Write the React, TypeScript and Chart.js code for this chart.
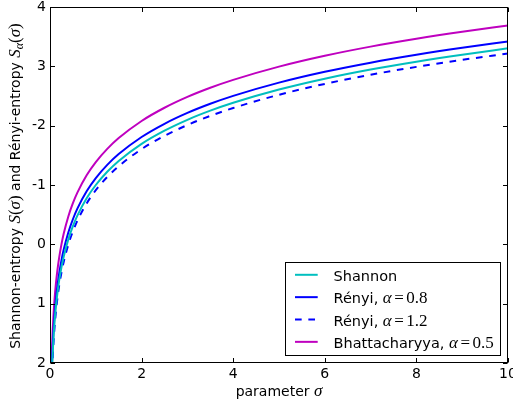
import { useEffect, useRef } from "react";
import { Chart, registerables } from "chart.js";

Chart.register(...registerables);

// ---- data ----
const sigma = [0.03, 0.04, 0.05, 0.06, 0.08, 0.1, 0.13, 0.16, 0.2, 0.25, 0.3, 0.4, 0.5, 0.6, 0.8, 1.0, 1.25, 1.5, 2, 2.5, 3, 3.5, 4, 5, 6, 7, 8, 9, 10];
const shannon = [-2.507, -2.219, -1.996, -1.813, -1.526, -1.303, -1.04, -0.833, -0.609, -0.386, -0.204, 0.084, 0.307, 0.489, 0.777, 1.0, 1.223, 1.405, 1.693, 1.916, 2.099, 2.253, 2.386, 2.609, 2.792, 2.946, 3.079, 3.197, 3.303];
const renyi08 = [-2.391, -2.103, -1.88, -1.697, -1.41, -1.187, -0.924, -0.717, -0.493, -0.27, -0.088, 0.2, 0.423, 0.605, 0.893, 1.116, 1.339, 1.521, 1.809, 2.032, 2.215, 2.369, 2.502, 2.725, 2.908, 3.062, 3.195, 3.313, 3.419];
const renyi12 = [-2.595, -2.307, -2.084, -1.901, -1.614, -1.391, -1.128, -0.921, -0.697, -0.474, -0.292, -0.004, 0.219, 0.401, 0.689, 0.912, 1.135, 1.317, 1.605, 1.828, 2.011, 2.165, 2.298, 2.521, 2.704, 2.858, 2.991, 3.109, 3.215];
const bhattacharyya = [-2.121, -1.833, -1.61, -1.427, -1.14, -0.917, -0.654, -0.447, -0.223, 0.0, 0.182, 0.47, 0.693, 0.875, 1.163, 1.386, 1.609, 1.791, 2.079, 2.302, 2.485, 2.639, 2.772, 2.995, 3.178, 3.332, 3.465, 3.583, 3.689];

const xTicks = [0, 2, 4, 6, 8, 10];
const yTickValues = [-2, -1, 0, 1, 2, 3, 4];
const yTickLabels = ["2", "1", "0", "-1", "-2", "3", "4"];

const legendNames = ["Shannon", "Rényi, ", "Rényi, ", "Bhattacharyya, "];
const legendAlpha = ["", "0.8", "1.2", "0.5"];

const SANS = '"DejaVu Sans"';
const SERIF = '"Liberation Serif"';
const F_SANS = `14px ${SANS}`;
const F_LEG = `14.5px ${SANS}`;
const F_MI = `italic 17px ${SERIF}`;
const F_MR = `17px ${SERIF}`;
const F_SUB = `italic 12px ${SERIF}`;

type Run = { t: string; f: string; dy?: number; gap?: number };

function runsWidth(ctx: CanvasRenderingContext2D, runs: Run[]) {
  let w = 0;
  for (const r of runs) {
    ctx.font = r.f;
    w += ctx.measureText(r.t).width + 2 * (r.gap || 0);
  }
  return w;
}

function drawRuns(ctx: CanvasRenderingContext2D, runs: Run[], x: number, y: number) {
  let cx = x;
  ctx.textBaseline = "alphabetic";
  ctx.textAlign = "left";
  for (const r of runs) {
    ctx.font = r.f;
    cx += r.gap || 0;
    ctx.fillText(r.t, cx, y + (r.dy || 0));
    cx += ctx.measureText(r.t).width + (r.gap || 0);
  }
  return cx - x;
}

const decor = {
  id: "decor",
  afterDatasetsDraw(chart: any) {
    const { ctx, chartArea: ca, scales } = chart;
    const xs = scales.x;
    const ys = scales.y;
    ctx.save();
    ctx.strokeStyle = "#000";
    ctx.lineWidth = 1;
    ctx.setLineDash([]);
    const L = Math.round(ca.left) + 0.5;
    const R = Math.round(ca.right) - 0.5;
    const T = Math.round(ca.top) + 0.5;
    const B = Math.round(ca.bottom) - 0.5;
    ctx.strokeRect(L, T, R - L, B - T);
    const tl = 4.5;
    ctx.beginPath();
    for (const v of xTicks) {
      const px = Math.round(xs.getPixelForValue(v)) + 0.5;
      ctx.moveTo(px, B);
      ctx.lineTo(px, B - tl);
      ctx.moveTo(px, T);
      ctx.lineTo(px, T + tl);
    }
    for (const v of yTickValues) {
      const py = Math.round(ys.getPixelForValue(v)) + 0.5;
      ctx.moveTo(L, py);
      ctx.lineTo(L + tl, py);
      ctx.moveTo(R, py);
      ctx.lineTo(R - tl, py);
    }
    ctx.stroke();

    // legend
    const rows = chart.data.datasets.map((ds: any, i: number) => {
      const runs: Run[] = [{ t: legendNames[i], f: F_LEG }];
      if (legendAlpha[i]) {
        runs.push({ t: "α", f: F_MI });
        runs.push({ t: "=", f: F_MR, gap: 2.5 });
        runs.push({ t: legendAlpha[i], f: F_MR });
      }
      return { ds, runs };
    });
    let maxW = 0;
    for (const r of rows) maxW = Math.max(maxW, runsWidth(ctx, r.runs));
    const boxW = 48 + maxW + 7;
    const boxH = 92.6;
    const bx = Math.round(ca.right - 7.3 - boxW) + 0.5;
    const by = Math.round(ca.bottom - 8.4 - boxH) + 0.5;
    ctx.fillStyle = "#fff";
    ctx.fillRect(bx, by, boxW, boxH);
    ctx.strokeStyle = "#000";
    ctx.lineWidth = 1;
    ctx.strokeRect(bx, by, Math.round(boxW), Math.round(boxH));
    rows.forEach((r: any, i: number) => {
      const ry = by + 12.3 + i * 22.35;
      ctx.strokeStyle = r.ds.borderColor;
      ctx.lineWidth = r.ds.borderWidth;
      ctx.setLineDash(r.ds.borderDash || []);
      ctx.beginPath();
      ctx.moveTo(bx + 9.5, ry);
      ctx.lineTo(bx + 32.2, ry);
      ctx.stroke();
      ctx.setLineDash([]);
      ctx.fillStyle = "#000";
      drawRuns(ctx, r.runs, bx + 48, ry + 6);
    });

    // x title
    ctx.fillStyle = "#000";
    const xRuns: Run[] = [
      { t: "parameter ", f: F_SANS },
      { t: "σ", f: F_MI },
    ];
    const xw = runsWidth(ctx, xRuns);
    drawRuns(ctx, xRuns, (ca.left + ca.right) / 2 - xw / 2, 396);

    // y title
    const yRuns: Run[] = [
      { t: "Shannon-entropy ", f: F_SANS },
      { t: "S", f: F_MI },
      { t: "(", f: F_MR },
      { t: "σ", f: F_MI },
      { t: ")", f: F_MR },
      { t: " and Rényi-entropy ", f: F_SANS },
      { t: "S", f: F_MI },
      { t: "α", f: F_SUB, dy: 3 },
      { t: "(", f: F_MR },
      { t: "σ", f: F_MI },
      { t: ")", f: F_MR },
    ];
    const yw = runsWidth(ctx, yRuns);
    ctx.translate(20, (ca.top + ca.bottom) / 2 + 1);
    ctx.rotate(-Math.PI / 2);
    drawRuns(ctx, yRuns, -yw / 2, 0);
    ctx.restore();
  },
};

export default function App() {
  const ref = useRef<HTMLCanvasElement | null>(null);
  useEffect(() => {
    document.body.style.margin = "0";
    const mk = (ys: number[]) => sigma.map((s, i) => ({ x: s, y: ys[i] }));
    const chart = new Chart(ref.current!, {
      type: "line",
      data: {
        datasets: [
          { label: "Shannon", data: mk(shannon), borderColor: "#00BFBF", borderWidth: 2, pointRadius: 0, cubicInterpolationMode: "monotone" },
          { label: "Rényi 0.8", data: mk(renyi08), borderColor: "#0000FF", borderWidth: 2, pointRadius: 0, cubicInterpolationMode: "monotone" },
          { label: "Rényi 1.2", data: mk(renyi12), borderColor: "#0000FF", borderWidth: 2, borderDash: [6.67, 6.67], pointRadius: 0, cubicInterpolationMode: "monotone" },
          { label: "Bhattacharyya", data: mk(bhattacharyya), borderColor: "#BF00BF", borderWidth: 2, pointRadius: 0, cubicInterpolationMode: "monotone" },
        ] as any,
      },
      options: {
        animation: false,
        responsive: false,
        events: [],
        layout: { padding: { top: 7, right: 5, left: 0, bottom: 0 } },
        plugins: { legend: { display: false }, tooltip: { enabled: false } },
        scales: {
          x: {
            type: "linear",
            min: 0,
            max: 10,
            grid: { display: false, drawTicks: false },
            border: { display: false },
            afterBuildTicks: (s: any) => { s.ticks = xTicks.map((v) => ({ value: v })); },
            ticks: { font: { family: "DejaVu Sans", size: 14 }, color: "#000", padding: 3, maxRotation: 0, autoSkip: false },
            afterFit: (s: any) => { s.height = 40; s.paddingLeft = 0; s.paddingRight = 0; },
          },
          y: {
            type: "linear",
            min: -2,
            max: 4,
            grid: { display: false, drawTicks: false },
            border: { display: false },
            afterBuildTicks: (s: any) => { s.ticks = yTickValues.map((v) => ({ value: v })); },
            ticks: {
              font: { family: "DejaVu Sans", size: 14 },
              color: "#000",
              padding: 4,
              autoSkip: false,
              callback: (v: any) => { const i = yTickValues.indexOf(Number(v)); return i >= 0 ? yTickLabels[i] : ""; },
            },
            afterFit: (s: any) => { s.width = 50; s.paddingTop = 0; s.paddingBottom = 0; },
          },
        },
      },
      plugins: [decor],
    });
    return () => chart.destroy();
  }, []);
  return (
    <div style={{ width: 513, height: 403 }}>
      <canvas ref={ref} width={513} height={403} />
    </div>
  );
}
